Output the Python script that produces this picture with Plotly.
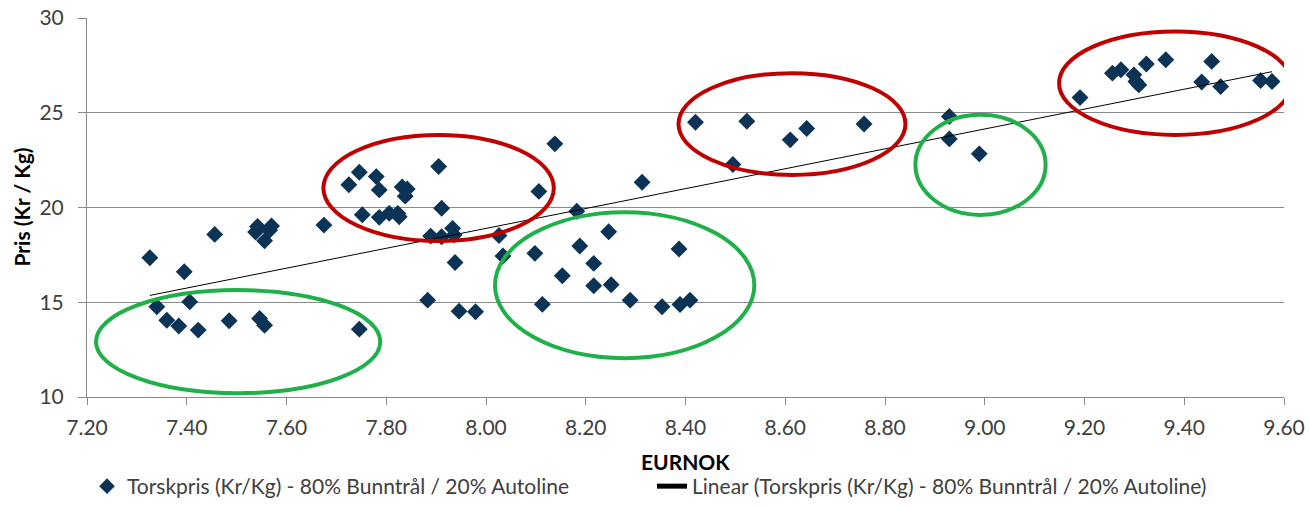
import numpy as np
import plotly.graph_objects as go

# ---- data ----
eurnok = [7.326, 7.340, 7.360, 7.384, 7.395, 7.406, 7.423, 7.456, 7.485, 7.538,
          7.542, 7.546, 7.556, 7.556, 7.566, 7.570, 7.675, 7.725, 7.746, 7.746,
          7.752, 7.780, 7.786, 7.786, 7.806, 7.823, 7.826, 7.832, 7.842, 7.838,
          7.883, 7.889, 7.905, 7.911, 7.911, 7.933, 7.936, 7.938, 7.946, 7.979,
          8.026, 8.034, 8.098, 8.106, 8.113, 8.138, 8.153, 8.182, 8.188, 8.216,
          8.216, 8.246, 8.251, 8.289, 8.313, 8.353, 8.387, 8.389, 8.409, 8.420,
          8.495, 8.523, 8.610, 8.643, 8.758, 8.929, 8.929, 8.989, 9.191, 9.256,
          9.273, 9.299, 9.303, 9.309, 9.324, 9.363, 9.435, 9.455, 9.473, 9.553,
          9.576]
pris = [17.35, 14.76, 14.05, 13.75, 16.61, 15.02, 13.53, 18.58, 14.02, 18.71,
        19.00, 14.14, 13.79, 18.24, 18.80, 19.02, 19.07, 21.20, 21.86, 13.58,
        19.62, 21.63, 20.93, 19.48, 19.69, 19.69, 19.51, 21.08, 20.98, 20.60,
        15.11, 18.49, 22.16, 19.96, 18.46, 18.90, 18.55, 17.10, 14.53, 14.50,
        18.52, 17.44, 17.58, 20.85, 14.89, 23.36, 16.40, 19.80, 17.97, 17.05,
        15.87, 18.72, 15.92, 15.11, 21.33, 14.76, 17.81, 14.88, 15.11, 24.50,
        22.27, 24.55, 23.57, 24.17, 24.41, 24.80, 23.62, 22.83, 25.80, 27.09,
        27.27, 27.00, 26.65, 26.47, 27.57, 27.80, 26.62, 27.71, 26.38, 26.70,
        26.65]

x_ticks = [7.20, 7.40, 7.60, 7.80, 8.00, 8.20, 8.40, 8.60, 8.80, 9.00, 9.20, 9.40, 9.60]
y_ticks = [10, 15, 20, 25, 30]

series_name = "Torskpris (Kr/Kg) - 80% Bunntrål / 20% Autoline"
trend_name = "Linear (Torskpris (Kr/Kg) - 80% Bunntrål / 20% Autoline)"
x_title = "EURNOK"
y_title = "Pris (Kr / Kg)"

# highlight ellipses (x0, x1, y0, y1) in data units
red_ellipses = [(7.674, 8.136, 18.23, 23.83),
                (8.386, 8.841, 21.72, 27.09),
                (9.149, 9.615, 23.83, 29.29)]
green_ellipses = [(7.218, 7.788, 10.20, 15.64),
                  (8.018, 8.538, 12.05, 19.75),
                  (8.861, 9.122, 19.61, 24.89)]

# ---- linear trend from the data ----
xa = np.array(eurnok)
ya = np.array(pris)
slope, intercept = np.polyfit(xa, ya, 1)
tx = np.array([xa.min(), xa.max()])
ty = slope * tx + intercept

FONT = "Lato"
TXT = "#404040"
GRID = "#8a8a8a"

fig = go.Figure()
fig.add_trace(go.Scatter(
    x=eurnok, y=pris, mode="markers", name=series_name,
    marker=dict(symbol="diamond", size=13, color="#0B3356"),
))
fig.add_trace(go.Scatter(
    x=tx, y=ty, mode="lines", name=trend_name,
    line=dict(color="#000000", width=1),
))

shapes = []
for (x0, x1, y0, y1) in red_ellipses:
    shapes.append(dict(type="circle", xref="x", yref="y", x0=x0, x1=x1, y0=y0, y1=y1,
                       line=dict(color="#C00000", width=4), layer="above"))
for (x0, x1, y0, y1) in green_ellipses:
    shapes.append(dict(type="circle", xref="x", yref="y", x0=x0, x1=x1, y0=y0, y1=y1,
                       line=dict(color="#1FB04A", width=4), layer="above"))

annotations = [
    dict(text=f"<b>{x_title}</b>", xref="paper", yref="paper", x=0.5, y=-0.1715,
         xanchor="center", yanchor="middle", showarrow=False,
         font=dict(family=FONT, size=21, color="#000000")),
    dict(text=f"<b>{y_title}</b>", xref="paper", yref="paper", x=-0.0551, y=0.5,
         xanchor="center", yanchor="middle", showarrow=False, textangle=-90,
         font=dict(family=FONT, size=21, color="#000000")),
]

fig.update_layout(
    width=1310, height=507,
    margin=dict(l=87, r=26, t=18, b=110, autoexpand=False),
    paper_bgcolor="white", plot_bgcolor="white",
    font=dict(family=FONT, size=21, color=TXT),
    shapes=shapes,
    annotations=annotations,
    showlegend=True,
    legend=dict(orientation="h", x=0.0, xanchor="left",
                yref="container", y=0.0, yanchor="bottom",
                entrywidth=520, entrywidthmode="pixels",
                font=dict(family=FONT, size=21, color=TXT), itemsizing="constant",
                bgcolor="rgba(0,0,0,0)"),
    xaxis=dict(
        range=[7.20, 9.60], tickvals=x_ticks, ticktext=[f"{v:.2f}" for v in x_ticks],
        showgrid=False, zeroline=False, showline=True, linecolor=GRID, linewidth=1,
        ticks="outside", ticklen=7, tickcolor=GRID, automargin=False,
        ticklabelstandoff=5,
        tickfont=dict(family=FONT, size=21, color=TXT),
    ),
    yaxis=dict(
        range=[10, 30], tickvals=y_ticks,
        showgrid=True, gridcolor=GRID, gridwidth=1, zeroline=False,
        showline=True, linecolor=GRID, linewidth=1,
        ticks="outside", ticklen=8, tickcolor=GRID, automargin=False,
        ticklabelstandoff=10,
        tickfont=dict(family=FONT, size=21, color=TXT),
    ),
)

fig.write_html("out.html", config={"displayModeBar": False},
               post_script="document.body.style.margin='0px';document.body.style.overflow='hidden';")
